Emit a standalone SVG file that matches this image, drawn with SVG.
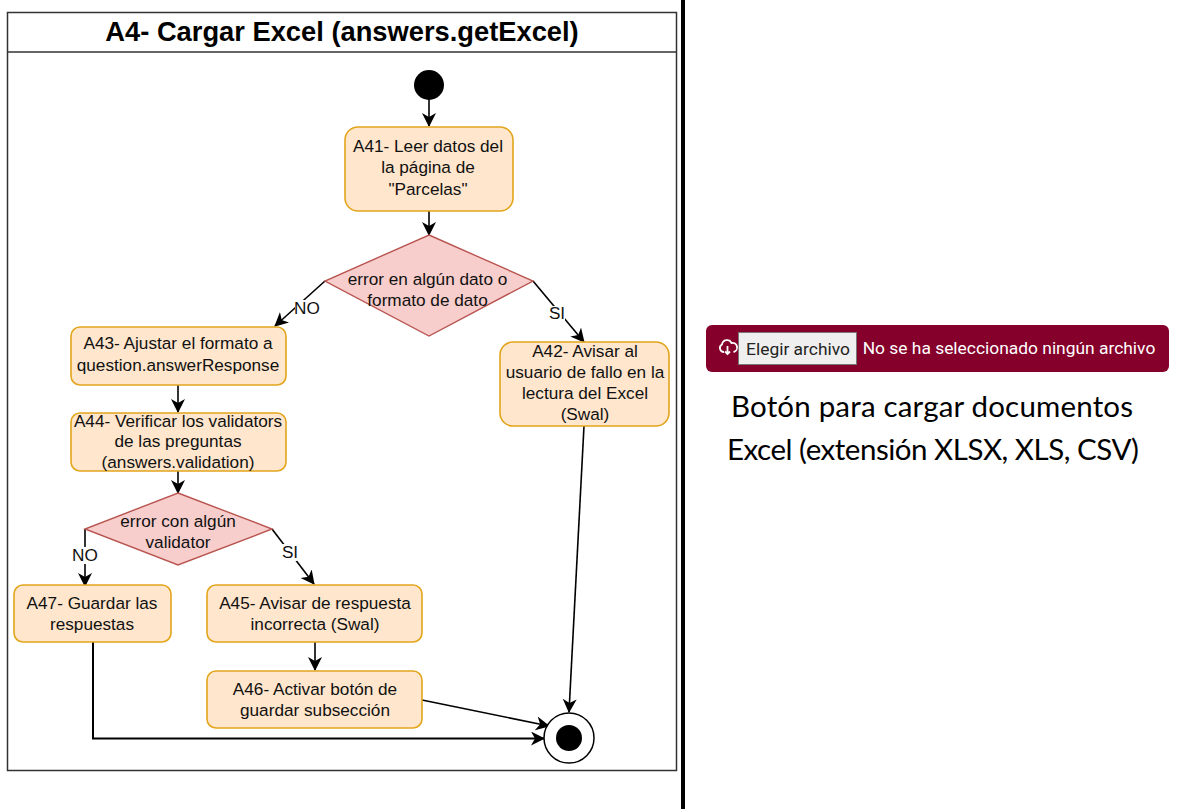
<svg xmlns="http://www.w3.org/2000/svg" width="1181" height="809" viewBox="0 0 1181 809">
<style>
text{font-family:"Liberation Sans",Arial,sans-serif;font-size:17.200px;fill:#111;text-anchor:middle}
.box{fill:#ffe6cc;stroke:#e3a51c;stroke-width:1.6}
.dia{fill:#f8cecc;stroke:#b85450;stroke-width:1.4}
.conn{fill:none;stroke:#000;stroke-width:1.6}
.lbl{fill:#fff;stroke:none}
.cap{font-family:Lato,"Open Sans",sans-serif;font-size:29.500px;fill:#000}
.ui{font-family:Roboto,sans-serif;font-size:17.400px}
</style>
<defs>
<marker id="arr" markerUnits="userSpaceOnUse" markerWidth="16" markerHeight="16" refX="13" refY="7" orient="auto">
<path d="M0 0L14 7L0 14L4 7Z" fill="#000"/>
</marker>
</defs>
<rect width="1181" height="809" fill="#fff"/>
<g id="frame">
<rect x="7.500" y="12.500" width="669" height="758" fill="#fff" stroke="#333" stroke-width="1.500"/>
<line x1="7.500" y1="52" x2="676.500" y2="52" stroke="#333" stroke-width="1.500"/>
<text x="342" y="41" style="font-size:27.300px;font-weight:700;fill:#000">A4- Cargar Excel (answers.getExcel)</text>
</g>
<rect id="divider" x="681" y="0" width="4" height="809" fill="#000"/>
<g id="connectors">
<path class="conn" d="M429 99V126" marker-end="url(#arr)"/>
<path class="conn" d="M429 211V235" marker-end="url(#arr)"/>
<path class="conn" d="M325 281L275 326" marker-end="url(#arr)"/>
<path class="conn" d="M533 281L584 342" marker-end="url(#arr)"/>
<path class="conn" d="M178 385V412" marker-end="url(#arr)"/>
<path class="conn" d="M178 471V493" marker-end="url(#arr)"/>
<path class="conn" d="M85 529V586" marker-end="url(#arr)"/>
<path class="conn" d="M272 529L314 584" marker-end="url(#arr)"/>
<path class="conn" d="M315 642V670" marker-end="url(#arr)"/>
<path class="conn" d="M584 426L569 712" marker-end="url(#arr)"/>
<path class="conn" d="M422 700L549 726" marker-end="url(#arr)"/>
<path class="conn" style="stroke-width:2" d="M93 642V738.500H544" marker-end="url(#arr)"/>
<rect class="lbl" x="295" y="300" width="25" height="17"/>
<text x="307" y="314">NO</text>
<rect class="lbl" x="548" y="306" width="17" height="17"/>
<text x="557" y="319">SI</text>
<rect class="lbl" x="72" y="547" width="26" height="17"/>
<text x="85" y="561">NO</text>
<rect class="lbl" x="282" y="544" width="15" height="17"/>
<text x="290" y="558">SI</text>
</g>
<g id="start"><circle cx="429" cy="85" r="15" fill="#000"/></g>
<g id="A41"><rect class="box" x="345" y="127" width="168" height="84" rx="13"/>
<text x="428" y="152">A41- Leer datos del</text><text x="428" y="173">la página de</text><text x="428" y="195">"Parcelas"</text></g>
<g id="D1"><polygon class="dia" points="429,235 533,281 429,336 325,281"/>
<text x="427.500" y="285">error en algún dato o</text><text x="427.500" y="306">formato de dato</text></g>
<g id="A43"><rect class="box" x="71" y="327" width="215" height="58" rx="9"/>
<text x="178" y="349">A43- Ajustar el formato a</text><text x="178" y="371">question.answerResponse</text></g>
<g id="A44"><rect class="box" x="71" y="413" width="215" height="58" rx="9"/>
<text x="178" y="427">A44- Verificar los validators</text><text x="178" y="447">de las preguntas</text><text x="178" y="468">(answers.validation)</text></g>
<g id="A42"><rect class="box" x="500" y="342" width="169" height="84" rx="13"/>
<text x="585" y="357">A42- Avisar al</text><text x="585" y="378">usuario de fallo en la</text><text x="585" y="399">lectura del Excel</text><text x="585" y="420">(Swal)</text></g>
<g id="D2"><polygon class="dia" points="178,493 272,529 178,565 85,529"/>
<text x="178" y="527">error con algún</text><text x="178" y="548">validator</text></g>
<g id="A47"><rect class="box" x="14" y="585" width="157" height="57" rx="9"/>
<text x="92" y="609">A47- Guardar las</text><text x="92" y="630">respuestas</text></g>
<g id="A45"><rect class="box" x="207" y="585" width="215" height="57" rx="9"/>
<text x="315" y="609">A45- Avisar de respuesta</text><text x="315" y="630">incorrecta (Swal)</text></g>
<g id="A46"><rect class="box" x="207" y="671" width="215" height="57" rx="9"/>
<text x="315" y="695">A46- Activar botón de</text><text x="315" y="716">guardar subsección</text></g>
<g id="end"><circle cx="569" cy="738" r="25" fill="#fff" stroke="#000" stroke-width="1.500"/><circle cx="569" cy="738" r="13" fill="#000"/></g>
<g id="button-panel">
<rect x="706" y="325" width="463" height="47" rx="6" fill="#85002a"/>
<path d="M724 352a4 4 0 0 1-2-7.500a5 5 0 0 1 9.500-1.500a4 4 0 0 1 2 9M727.500 346v8M725 351.500l2.500 2.500l2.500-2.500" fill="none" stroke="#fff" stroke-width="1.800"/>
<rect x="738.500" y="332.500" width="118" height="32" fill="#efefef" stroke="#777"/>
<text class="ui" x="798" y="355" style="fill:#222">Elegir archivo</text>
<text class="ui" x="1009" y="354" style="fill:#fff">No se ha seleccionado ningún archivo</text>
<text class="cap" x="932" y="417" textLength="402">Botón para cargar documentos</text>
<text class="cap" x="933" y="460" textLength="412">Excel (extensión XLSX, XLS, CSV)</text>
</g>
</svg>
